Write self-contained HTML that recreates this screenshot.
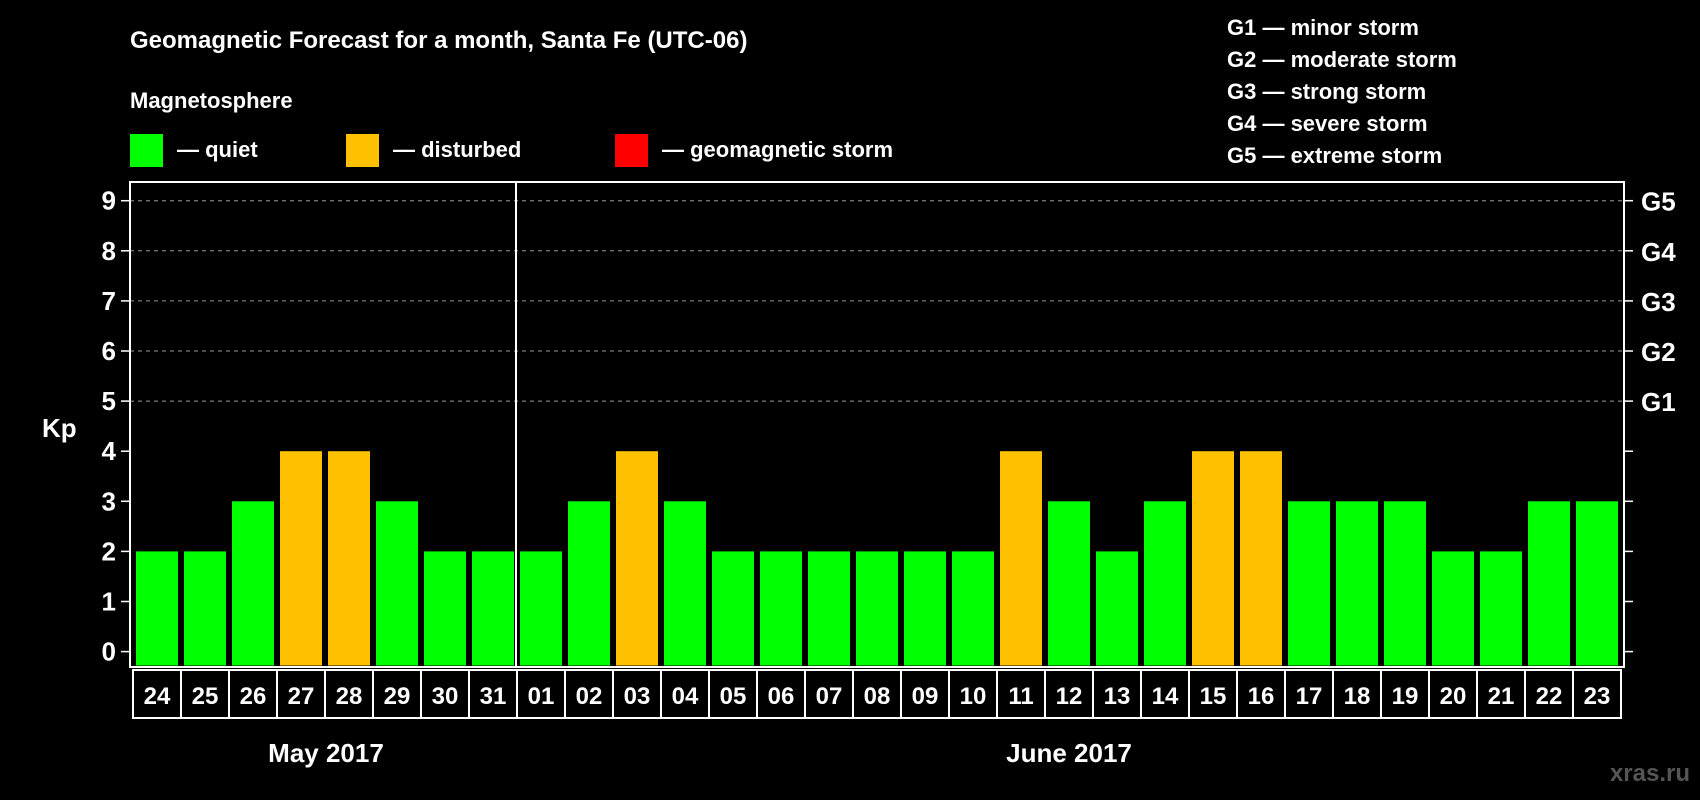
<!DOCTYPE html>
<html><head><meta charset="utf-8"><style>
html,body{margin:0;padding:0;background:#000;}
svg{display:block;font-family:"Liberation Sans",sans-serif;font-weight:bold;}
</style></head><body>
<svg id="chart" width="1700" height="800" viewBox="0 0 1700 800">
<text x="130" y="48" fill="#fff" font-size="24">Geomagnetic Forecast for a month, Santa Fe (UTC-06)</text>
<text x="130" y="108" fill="#fff" font-size="22">Magnetosphere</text>
<g>
<rect x="130" y="134" width="33" height="33" fill="#00ff00"/>
<text x="177" y="157" fill="#fff" font-size="22">— quiet</text>
<rect x="346" y="134" width="33" height="33" fill="#ffc000"/>
<text x="393" y="157" fill="#fff" font-size="22">— disturbed</text>
<rect x="615" y="134" width="33" height="33" fill="#ff0000"/>
<text x="662" y="157" fill="#fff" font-size="22">— geomagnetic storm</text>
</g>
<g fill="#fff" font-size="22">
<text x="1227" y="35">G1 — minor storm</text>
<text x="1227" y="67">G2 — moderate storm</text>
<text x="1227" y="99">G3 — strong storm</text>
<text x="1227" y="131">G4 — severe storm</text>
<text x="1227" y="163">G5 — extreme storm</text>
</g>
<text x="42" y="437" fill="#fff" font-size="26">Kp</text>
<g id="plot"></g>
<text x="326" y="762" fill="#fff" font-size="26" text-anchor="middle">May 2017</text>
<text x="1069" y="762" fill="#fff" font-size="26" text-anchor="middle">June 2017</text>
<text x="1690" y="781" fill="#555" font-size="24" text-anchor="end">xras.ru</text>
</svg>
<script>
const days=["24","25","26","27","28","29","30","31","01","02","03","04","05","06","07","08","09","10","11","12","13","14","15","16","17","18","19","20","21","22","23"];
const kpValues=[2,2,3,4,4,3,2,2,2,3,4,3,2,2,2,2,2,2,4,3,2,3,4,4,3,3,3,2,2,3,3];
const yTicks=[0,1,2,3,4,5,6,7,8,9];
const gLabels=["","","","","","G1","G2","G3","G4","G5"];
const monthBreakIndex=8;
const NS="http://www.w3.org/2000/svg";
const g=document.getElementById('plot');
const L=130,R=1624,T=182,B=667;
const y0=651.6,unit=50.1;
const yS=v=>y0-v*unit;
const pitch=(R-L-6)/days.length;
const xS=i=>L+3+i*pitch;
function mk(t,a){const e=document.createElementNS(NS,t);for(const k in a)e.setAttribute(k,a[k]);g.appendChild(e);return e;}
yTicks.forEach((v,i)=>{
 const y=yS(v);
 if(v>=5){const l=mk('line',{x1:L,x2:R,y1:y,y2:y,stroke:'#999','stroke-dasharray':'4,4','stroke-width':1});
 
 }
 const t1=mk('line',{x1:L-9,x2:L,y1:y,y2:y,stroke:'#fff','stroke-width':1.5});
 
 
 const t2=mk('line',{x1:R,x2:R+9,y1:y,y2:y,stroke:'#fff','stroke-width':1.5});
 
 
 const tl=mk('text',{x:L-14,y:y+9,fill:'#fff','font-size':26,'text-anchor':'end'});tl.textContent=v;
 
 
 if(gLabels[i]){const gl=mk('text',{x:R+17,y:y+10,fill:'#fff','font-size':26});gl.textContent=gLabels[i];
 
 }
});
kpValues.forEach((v,i)=>{
 const x=xS(i);
 const b=mk('rect',{x:x+3,y:yS(v),width:pitch-6,height:B-yS(v)-1.5,fill:v>=5?'#ff0000':(v>=4?'#ffc000':'#00ff00')});
 
 
 const c=mk('rect',{x:x,y:B+3,width:pitch,height:48,fill:'none',stroke:'#fff','stroke-width':2});
 
 
 const t=mk('text',{x:x+pitch/2,y:B+37,fill:'#fff','font-size':24,'text-anchor':'middle'});t.textContent=days[i];
 
 
});
const f=mk('rect',{x:L,y:T,width:R-L,height:B-T,fill:'none',stroke:'#fff','stroke-width':2});


const dx=xS(monthBreakIndex)-1;
const d=mk('line',{x1:dx,x2:dx,y1:T,y2:B,stroke:'#fff','stroke-width':2});


</script>
</body></html>
